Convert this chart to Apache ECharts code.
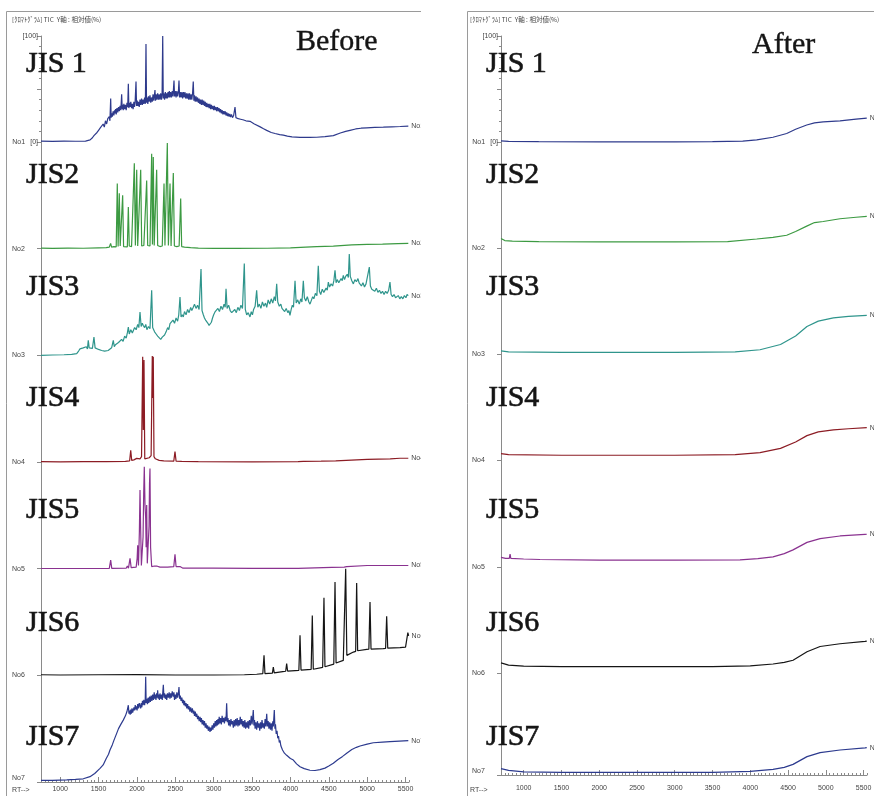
<!DOCTYPE html>
<html>
<head>
<meta charset="utf-8">
<script src="https://cdn.jsdelivr.net/npm/echarts@6/dist/echarts.min.js"></script>
<style>
  html, body { margin: 0; padding: 0; background: #ffffff; }
  #chart { width: 874px; height: 796px; }
</style>
</head>
<body>
<div id="chart"></div>
<script>
// Sample names and trace tags
const sampleNames = ['JIS 1', 'JIS2', 'JIS3', 'JIS4', 'JIS5', 'JIS6', 'JIS7'];
const traceTags = ['No1', 'No2', 'No3', 'No4', 'No5', 'No6', 'No7'];
const rtTicks = [1000, 1500, 2000, 2500, 3000, 3500, 4000, 4500, 5000, 5500];
const traceColors = ['#2e3a8c', '#3c9a42', '#2f958c', '#8c1c24', '#8a3290', '#151515', '#2c3a8e'];

// TIC traces before treatment: [RT, relative intensity %]
const jis1Before = [[750,0.8],[900,0.6],[1050,0.8],[1200,0.7],[1330,0.9],[1390,2],[1420,4],[1440,6],[1460,5],[1480,9],[1500,11],[1520,13],[1540,12],[1560,17],[1575,14],[1590,20],[1605,17],[1620,22],[1640,24],[1648,20],[1658,41],[1664,23],[1672,27],[1680,24],[1690,29],[1700,25],[1708,30],[1714,27],[1722,31],[1730,26],[1740,32],[1750,28],[1760,33],[1770,29],[1780,34],[1790,30],[1801,45],[1808,31],[1815,35],[1822,30],[1830,36],[1840,31],[1850,35],[1860,30],[1870,37],[1880,33],[1888,55],[1895,32],[1903,37],[1912,33],[1920,38],[1930,32],[1940,36],[1950,31],[1960,38],[1968,33],[1976,37],[1988,57],[1995,34],[2003,39],[2012,34],[2020,38],[2030,33],[2040,40],[2050,35],[2060,41],[2070,35],[2080,40],[2090,36],[2100,42],[2110,36],[2118,92.5],[2125,37],[2133,42],[2142,36],[2150,43],[2160,38],[2170,44],[2180,37],[2190,42],[2200,38],[2210,45],[2220,39],[2228,44],[2235,49],[2242,39],[2250,45],[2260,40],[2270,46],[2280,40],[2290,45],[2300,40],[2310,46],[2320,40],[2328,45],[2336,100],[2343,41],[2350,46],[2360,40],[2370,47],[2380,41],[2388,46],[2396,41],[2405,47],[2414,42],[2422,48],[2430,42],[2440,47],[2450,42],[2460,48],[2470,43],[2483,58],[2490,43],[2500,48],[2510,42],[2520,48],[2530,43],[2540,47],[2548,58],[2556,42],[2565,47],[2575,42],[2585,47],[2595,41],[2605,47],[2615,42],[2625,47],[2635,41],[2645,46],[2655,41],[2665,46],[2675,40],[2685,46],[2695,40],[2705,45],[2715,40],[2725,46],[2734,57],[2742,39],[2750,44],[2760,38],[2770,43],[2780,38],[2790,42],[2800,37],[2810,41],[2820,36],[2830,40],[2840,35],[2850,40],[2860,35],[2870,39],[2880,34],[2890,38],[2900,33],[2910,37],[2920,33],[2930,36],[2940,32],[2950,36],[2960,31],[2970,35],[2980,31],[2990,34],[3000,30],[3010,34],[3020,30],[3030,33],[3039,29],[3050,33],[3060,29],[3070,32],[3080,28],[3090,31],[3100,27],[3110,30],[3120,26],[3130,29],[3140,26],[3150,29],[3160,25],[3170,28],[3180,24.5],[3190,27],[3200,24],[3210,26.5],[3220,23.5],[3232,26],[3245,23],[3260,25],[3278,33],[3290,23],[3305,24],[3320,22],[3335,23.5],[3350,21.5],[3365,22.5],[3380,21],[3400,22],[3420,20],[3440,20.5],[3473,19.5],[3530,17],[3600,14.5],[3650,12.5],[3691,11],[3750,9],[3800,8],[3860,7],[3907,6.5],[3960,5.5],[4020,4.8],[4125,4.4],[4250,4.3],[4342,4.5],[4450,5],[4559,6],[4650,8.5],[4720,10],[4776,11],[4850,12.3],[4920,13],[4994,13.4],[5100,13.8],[5210,14],[5320,14.3],[5430,14.6],[5536,15]];
const jis2Before = [[750,0.5],[900,0.3],[1100,0.5],[1300,0.4],[1500,0.8],[1600,1],[1640,1.5],[1657,5],[1670,1.5],[1700,2],[1730,1.8],[1744,61],[1755,2],[1770,52],[1782,2.5],[1800,1.8],[1814,50],[1826,2],[1850,2.5],[1875,1.8],[1888,39],[1900,2.5],[1930,2],[1950,3],[1966,80],[1980,3],[1997,74],[2010,2.5],[2030,3],[2049,74],[2062,2.5],[2090,3],[2110,2.5],[2127,64],[2140,3],[2170,2.5],[2180,3],[2192,89],[2202,4],[2213,86],[2225,3],[2240,2.5],[2257,74],[2270,3],[2300,2],[2330,2.5],[2353,61],[2365,3],[2380,2.5],[2396,99],[2410,3],[2431,61],[2445,2.5],[2460,3],[2474,71],[2488,2.5],[2520,2],[2550,2.5],[2570,47],[2583,2],[2620,1.5],[2700,1],[2800,0.5],[3000,0.3],[3300,0.3],[3700,0.4],[4000,0.8],[4200,1.5],[4342,2],[4559,2.5],[4800,3.5],[5000,4],[5200,4.3],[5400,4.7],[5536,5]];
const jis3Before = [[750,0],[900,0.3],[1050,0.5],[1150,0.8],[1215,1.5],[1240,4],[1258,6],[1275,4.5],[1300,7],[1320,5.5],[1340,8],[1355,6],[1366,14],[1378,7],[1400,8],[1420,6.5],[1440,17],[1455,7],[1475,6],[1500,5.5],[1519,6],[1540,4.5],[1560,5],[1580,4],[1600,5.5],[1625,4.5],[1649,4.7],[1670,7],[1692,14],[1705,8],[1720,10],[1740,8.5],[1760,12],[1779,11],[1800,15],[1820,13],[1840,18],[1860,16],[1875,21],[1888,26.5],[1900,20],[1920,24],[1940,21],[1953,22],[1970,26],[1990,24],[2010,29],[2025,26],[2040,40.6],[2055,27],[2070,30],[2083,28],[2100,26],[2115,29],[2130,24],[2150,27],[2170,25],[2192,61],[2205,26],[2213,25],[2230,22],[2250,20],[2270,18],[2290,17],[2310,15],[2330,17],[2344,15.6],[2360,19],[2380,22],[2400,26],[2415,24],[2431,29.7],[2450,28],[2470,33],[2490,30],[2510,35],[2530,32],[2545,38],[2561,54.6],[2575,36],[2590,38],[2604,36],[2620,41],[2640,38],[2660,43],[2680,40],[2700,45],[2715,42],[2734,45],[2750,48],[2770,44],[2790,47],[2810,43],[2835,81],[2848,42],[2865,38],[2880,35],[2895,33],[2909,32.8],[2925,30],[2940,28],[2952,26.5],[2970,31],[2985,35],[3000,38],[3020,41],[3039,42],[3055,44],[3075,41],[3095,46],[3115,43],[3135,48],[3150,45],[3161,62.5],[3175,44],[3195,47],[3215,42],[3235,40],[3256,39],[3275,43],[3295,40],[3315,45],[3335,42],[3355,47],[3375,44],[3399,86],[3412,43],[3430,38],[3450,40],[3473,36],[3490,41],[3505,38],[3520,43],[3540,46],[3560,61],[3575,45],[3595,48],[3615,44],[3635,50],[3655,46],[3675,49],[3691,45],[3710,52],[3730,48],[3750,53],[3770,49],[3790,55],[3805,51],[3821,67],[3835,50],[3855,46],[3875,48],[3890,44],[3907,43.7],[3925,41],[3945,44],[3965,40],[3980,42],[3994,37.5],[4010,43],[4025,47],[4040,45],[4060,70],[4075,49],[4095,52],[4115,48],[4135,53],[4150,50],[4168,70],[4182,54],[4200,51],[4220,55],[4240,50],[4255,48],[4275,52],[4290,55],[4305,53],[4325,58],[4345,56],[4363,84],[4378,60],[4395,57],[4415,62],[4435,59],[4451,57.8],[4465,63],[4480,61],[4494,68.7],[4510,64],[4530,67],[4550,65],[4566,70],[4581,79.7],[4595,68],[4610,71],[4630,68],[4646,67],[4660,72],[4675,70],[4689,75],[4705,71],[4720,74],[4740,76],[4755,73],[4767,95],[4780,74],[4800,70],[4820,67],[4840,71],[4860,69],[4880,72],[4895,68],[4907,68.7],[4925,65],[4945,68],[4965,64],[4985,67],[5005,66],[5028,82.8],[5042,65],[5060,62],[5080,62.5],[5100,60],[5120,63],[5140,59],[5160,61],[5180,58],[5200,60],[5220,57],[5240,60],[5260,58],[5280,61],[5297,68.7],[5312,57],[5330,55],[5350,57],[5370,54],[5385,54.6],[5405,56],[5425,53],[5445,55],[5465,53],[5485,56],[5505,54],[5520,57],[5536,56]];
const jis4Before = [[750,0.3],[1000,0.2],[1300,0.3],[1560,0.3],[1584,2],[1600,0.3],[1850,0.5],[1905,1],[1919,11],[1932,1.5],[1960,2],[1997,3.4],[2040,3],[2060,5],[2075,98.7],[2083,30],[2092,95.6],[2102,3],[2127,3.4],[2160,4],[2185,6],[2200,99.3],[2206,60],[2213,98.7],[2222,5],[2240,3],[2257,2],[2290,1.5],[2350,1],[2480,0.8],[2496,9.7],[2510,0.8],[2583,0.5],[2800,0.3],[3500,0.2],[4100,0.3],[4168,0.6],[4400,0.8],[4590,1],[4610,2],[5000,2.5],[5300,3],[5428,3.5],[5536,3.5]];
const jis5Before = [[750,0.2],[1200,0.2],[1640,0.3],[1658,8],[1672,0.3],[1860,0.5],[1875,2.5],[1890,0.5],[1910,9.7],[1925,1],[1990,1.5],[2003,10],[2010,22],[2020,3],[2032,35],[2040,73.7],[2048,39],[2058,3],[2068,2],[2080,30],[2088,70],[2096,95.6],[2105,60],[2114,47],[2120,20],[2127,59.7],[2135,5],[2148,3.5],[2158,40],[2164,80],[2170,94],[2178,20],[2192,2],[2230,2.5],[2257,2.5],[2300,1.5],[2400,1.5],[2480,2],[2496,13.5],[2510,2],[2561,2],[2600,0.5],[2990,0.5],[2995,2],[3010,0.5],[3500,0.3],[4100,0.3],[4538,1.3],[4700,1.5],[4733,2],[4740,2.8],[5000,3],[5300,3],[5536,3]];
const jis6Before = [[750,0.5],[1000,0.3],[1500,0.5],[2000,0.6],[2500,0.3],[3000,0.3],[3400,0.5],[3560,1],[3640,1.5],[3656,18.7],[3668,1.6],[3765,2],[3777,7.8],[3789,2.2],[3900,3.5],[3938,3.8],[3951,11],[3963,4],[4110,4.7],[4125,37.5],[4138,4.9],[4270,5.5],[4285,56],[4298,5.7],[4420,7.5],[4437,72.8],[4450,8],[4565,10.5],[4581,87.4],[4595,11.5],[4689,14],[4705,15],[4720,100],[4735,18.7],[4820,21.8],[4850,22.5],[4863,86.5],[4876,23],[4994,24.4],[5022,24.5],[5037,68.7],[5050,24.6],[5210,25],[5240,25.2],[5254,55.3],[5268,25.4],[5428,26],[5500,26.5],[5520,28],[5530,40],[5540,37]];
const jis7Before = [[750,1.5],[900,1.5],[1085,2],[1200,2.5],[1301,3],[1388,5],[1450,8],[1519,12.8],[1560,16],[1600,22],[1630,26],[1649,30],[1680,35],[1700,39],[1736,45.6],[1760,50],[1790,54],[1822,58],[1850,62],[1870,66],[1888,72],[1896,64],[1905,67],[1912,63],[1920,68],[1928,64],[1936,69],[1944,65],[1953,66],[1962,70],[1970,67],[1978,72],[1986,68],[1994,71],[2002,67],[2010,73],[2020,69],[2030,74],[2040,73.7],[2048,69],[2056,74],[2064,70],[2072,76],[2080,72],[2090,77],[2100,72],[2108,76],[2114,98.7],[2120,74],[2127,78],[2136,73],[2145,79],[2155,74],[2165,80],[2175,75],[2185,81],[2195,76],[2205,82],[2215,77],[2225,84],[2233,78],[2240,82],[2248,77],[2257,83],[2265,79],[2270,86],[2278,78],[2285,82],[2293,77],[2300,83],[2310,78],[2320,82],[2330,77],[2337,84],[2344,91],[2352,79],[2360,83],[2370,78],[2380,82],[2388,77],[2398,83],[2410,79],[2420,84],[2430,78],[2440,83],[2450,79],[2460,85],[2474,80],[2482,84],[2490,77],[2500,82],[2510,78],[2520,84],[2530,79],[2540,83],[2548,89],[2556,78],[2565,81],[2575,76],[2585,79],[2595,74],[2604,77],[2612,72],[2620,76],[2630,71],[2640,74],[2650,69],[2660,73],[2670,68],[2680,71],[2690,66],[2700,70],[2712,65],[2722,69],[2734,64],[2742,67],[2750,62],[2760,66],[2770,61],[2780,64],[2790,59],[2800,62],[2811,57],[2822,61],[2831,56],[2840,60],[2850,54],[2860,58],[2870,53],[2880,57],[2890,51],[2900,55],[2910,50],[2920,53],[2930,48],[2940,52],[2952,47],[2960,51],[2970,48],[2980,53],[2990,49],[3000,55],[3010,51],[3020,57],[3030,52],[3039,58],[3048,53],[3056,59],[3064,54],[3072,61],[3080,55],[3090,60],[3100,54],[3110,62],[3120,56],[3130,60],[3140,55],[3150,61],[3160,57],[3169,73.7],[3178,56],[3186,60],[3195,53],[3205,58],[3215,52],[3225,59],[3235,54],[3245,57],[3256,51],[3266,58],[3276,52],[3286,59],[3296,53],[3306,60],[3316,52],[3326,58],[3336,53],[3346,61],[3356,54],[3366,59],[3376,52],[3386,57],[3396,51],[3406,58],[3416,50],[3426,56],[3436,51],[3446,57],[3456,50],[3466,58],[3478,53],[3490,62],[3500,54],[3508,60],[3516,67.5],[3524,53],[3532,58],[3540,50],[3550,56],[3560,49],[3570,57],[3580,51],[3590,55],[3600,48],[3610,56],[3620,50],[3630,58],[3640,51],[3650,55],[3660,50],[3670,59],[3680,52],[3691,64],[3700,52],[3710,57],[3720,50],[3730,56],[3740,49],[3750,55],[3760,48],[3770,57],[3777,52],[3790,67.5],[3798,50],[3805,54],[3815,45],[3825,48],[3835,41],[3845,43],[3855,37],[3864,39],[3875,34],[3885,35],[3897,30],[3910,31],[3922,27],[3935,28],[3951,25],[3975,23.5],[4000,22],[4038,20.6],[4080,17],[4125,14.3],[4180,12.5],[4255,11],[4320,10.8],[4385,11.6],[4450,13],[4500,15],[4559,17.5],[4620,21],[4680,24],[4733,27],[4800,30.5],[4860,32.5],[4907,33.7],[5000,35.5],[5080,36.8],[5200,37.4],[5297,37.8],[5420,38.3],[5536,38.7]];

// TIC traces after treatment: [RT, relative intensity %]
const jis1After = [[700,1],[800,0.5],[1200,0.3],[2000,0.2],[3000,0.2],[3500,0.3],[3900,0.8],[4085,2],[4300,4.5],[4482,8],[4600,12],[4747,16],[4850,18],[4965,19],[5188,20],[5400,21.5],[5542,22.5]];
const jis2After = [[700,9],[750,7],[850,6.5],[1200,6],[2000,5.8],[3000,5.8],[3700,6],[4085,8.5],[4300,10],[4482,12],[4600,15.5],[4747,20.6],[4850,24],[4965,25],[5188,27.6],[5400,29],[5542,29.8]];
const jis3After = [[700,3],[800,2],[1500,1.5],[3000,1.5],[3800,2],[4129,4],[4400,9],[4600,17],[4750,26],[4900,31],[5100,34],[5300,35.5],[5542,36.5]];
const jis4After = [[700,6],[800,5],[1500,4.5],[3000,4.5],[3800,5],[4129,7],[4400,11],[4600,17],[4750,23],[4900,26.5],[5100,28.5],[5300,29.5],[5542,30.5]];
const jis5After = [[700,9],[760,8],[810,8],[820,12],[830,8],[1000,7.5],[1216,7],[2000,6.5],[3000,6.5],[3864,6.7],[4100,7.8],[4301,9.5],[4450,12.5],[4566,16],[4751,23],[4924,26.5],[5188,29],[5519,30.5],[5542,30.6]];
const jis6After = [[700,9.5],[800,7.5],[1000,6.5],[1500,6],[2500,6],[3500,6],[4000,6.8],[4301,8.5],[4450,10],[4566,12],[4751,20],[4924,25],[5188,27.6],[5519,29.8],[5542,30]];
const jis7After = [[700,6.3],[800,4.5],[1000,3],[1500,2.5],[2500,2.5],[3500,2.5],[4000,3.5],[4301,5.6],[4450,7.5],[4566,10.4],[4751,18],[4924,22],[5188,24.5],[5519,26.6],[5542,26.8]];

const beforeTraces = [jis1Before, jis2Before, jis3Before, jis4Before, jis5Before, jis6Before, jis7Before];
const afterTraces = [jis1After, jis2After, jis3After, jis4After, jis5After, jis6After, jis7After];

// Panel geometry (pixels)
const panels = [
  { traces: beforeTraces, title: 'Before', left: 41, right: 409, rtMin: 750, rtMax: 5545, top: 36,
    baselines: [142, 248.7, 355.3, 462, 568.7, 675.3, 782], labelX: 26, titleX: 296, titleY: 42,
    frameX: 6, frameRight: 421, textX: 12, rtLabelMargin: 4 },
  { traces: afterTraces, title: 'After', left: 501, right: 867, rtMin: 700, rtMax: 5545, top: 36,
    baselines: [142, 248, 354, 460, 567, 673, 775], labelX: 486, titleX: 752, titleY: 45,
    frameX: 467, frameRight: 874, textX: 470, rtLabelMargin: 10 }
];
const nameY = [64, 175, 287, 398, 510, 623, 737];

const tinyFont = { fontSize: 7, color: '#444', fontFamily: 'Liberation Sans' };
const grids = [], xAxes = [], yAxes = [], series = [], graphics = [];

panels.forEach((p, pi) => {
  p.traces.forEach((trace, k) => {
    const top = k === 0 ? p.top : p.baselines[k - 1];
    const height = p.baselines[k] - top;
    const gi = grids.length;
    grids.push({ left: p.left, top: top, width: p.right - p.left, height: height,
      containLabel: false, outerBoundsMode: 'none' });
    const isBottom = k === 6;
    xAxes.push({
      type: 'value', gridIndex: gi, min: p.rtMin, max: p.rtMax, interval: 50,
      show: isBottom,
      axisLine: { show: true, lineStyle: { color: '#8a8a8a', width: 1 } },
      axisTick: { show: true, inside: true, length: 2, lineStyle: { color: '#8a8a8a' } },
      axisLabel: { show: true, customValues: rtTicks, margin: p.rtLabelMargin, ...tinyFont,
        formatter: v => String(v) },
      splitLine: { show: false }
    });
    yAxes.push({
      type: 'value', gridIndex: gi, min: 0, max: 100, interval: k === 0 ? 50 : 100,
      axisLine: { show: true, lineStyle: { color: '#8a8a8a', width: 1 } },
      axisTick: { show: true, length: 4, lineStyle: { color: '#8a8a8a' } },
      minorTick: { show: k === 0, splitNumber: 5, length: 2, lineStyle: { color: '#8a8a8a' } },
      splitLine: { show: false },
      axisLabel: {
        show: true, margin: 3, ...tinyFont,
        verticalAlign: isBottom ? 'bottom' : 'middle',
        formatter: v => {
          if (v === 0) return k === 0 ? '{n|' + traceTags[k] + '}[0]' : '{n|' + traceTags[k] + '}{g| }';
          if (v === 100 && k === 0) return '[100]';
          return '';
        },
        rich: {
          n: { fontSize: 7, color: '#444', width: 18, align: 'left' },
          g: { fontSize: 7, width: 8 }
        }
      }
    });
    series.push({
      type: 'line', name: sampleNames[k] + ' ' + p.title,
      xAxisIndex: gi, yAxisIndex: gi, data: trace,
      showSymbol: false, symbol: 'none', clip: false, animation: false,
      lineStyle: { color: traceColors[k], width: 1.2 },
      endLabel: { show: true, formatter: traceTags[k], distance: 3, ...tinyFont }
    });
    graphics.push({
      type: 'text', z: 100, silent: true,
      style: { text: sampleNames[k], x: p.labelX, y: nameY[k], fontSize: 30,
        fontFamily: 'Liberation Serif', fill: '#151515', stroke: '#151515', lineWidth: 0.6,
        verticalAlign: 'middle' }
    });
  });
});

// Major RT ticks on the bottom axis of each panel
panels.forEach((p, pi) => {
  const gi = pi * 7 + 6;
  xAxes.push({
    type: 'value', gridIndex: gi, min: p.rtMin, max: p.rtMax, position: 'bottom',
    axisLine: { show: false },
    axisTick: { show: true, inside: true, length: 5, customValues: rtTicks, lineStyle: { color: '#8a8a8a' } },
    axisLabel: { show: false }, splitLine: { show: false }
  });
});

// Gap between panels, frames and header texts
graphics.push({ type: 'rect', z: 90, silent: true,
  shape: { x: 421, y: 0, width: 46, height: 796 }, style: { fill: '#ffffff' } });
panels.forEach(p => {
  graphics.push({ type: 'polyline', z: 95, silent: true,
    shape: { points: [[p.frameX + 0.5, 796], [p.frameX + 0.5, 11.5], [p.frameRight, 11.5]] },
    style: { stroke: '#9a9a9a', lineWidth: 1, fill: null } });
  graphics.push({ type: 'text', z: 100, silent: true,
    style: { text: '[ｸﾛﾏﾄｸﾞﾗﾑ] TIC  Y軸 : 相対値(%)', x: p.textX, y: 20, fontSize: 6.5,
      fontFamily: 'Noto Sans CJK JP', fill: '#444', verticalAlign: 'middle' } });
  graphics.push({ type: 'text', z: 100, silent: true,
    style: { text: 'RT-->', x: p.textX, y: 790, fontSize: 7,
      fontFamily: 'Liberation Sans', fill: '#444', verticalAlign: 'middle' } });
  graphics.push({ type: 'text', z: 100, silent: true,
    style: { text: p.title, x: p.titleX, y: p.titleY, fontSize: 30,
      fontFamily: 'Liberation Serif', fill: '#151515', stroke: '#151515', lineWidth: 0.4,
      verticalAlign: 'middle' } });
});

const chart = echarts.init(document.getElementById('chart'), null, { renderer: 'canvas' });
chart.setOption({
  backgroundColor: '#ffffff',
  animation: false,
  grid: grids,
  xAxis: xAxes,
  yAxis: yAxes,
  series: series,
  graphic: graphics
});
</script>
</body>
</html>
